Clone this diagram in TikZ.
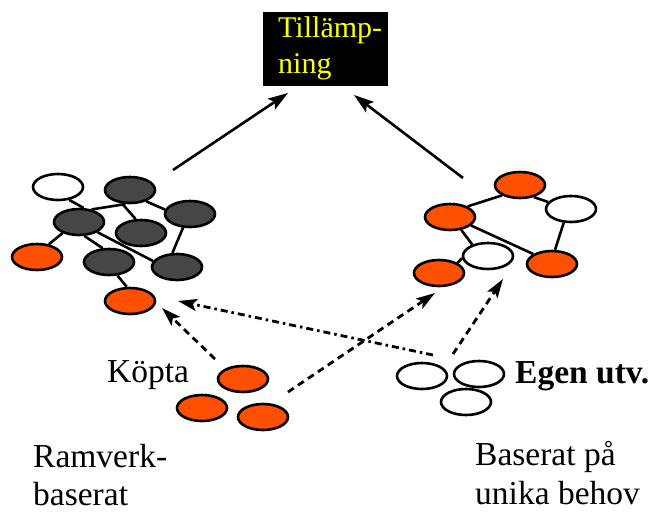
\documentclass[tikz,border=0pt]{standalone}
\usepackage{fontspec}
\setmainfont{Liberation Serif}
\usetikzlibrary{shapes.geometric,arrows.meta}
\definecolor{orng}{RGB}{255,80,0}
\definecolor{dgray}{RGB}{70,70,70}
\definecolor{yel}{RGB}{255,255,0}
\tikzset{
  blob/.style={ellipse, draw=black, line width=2.6pt, minimum width=50pt, minimum height=26pt, inner sep=0pt},
  wblob/.style={blob, fill=white},
  oblob/.style={blob, fill=orng},
  gblob/.style={blob, fill=dgray},
  edge/.style={line width=2.6pt},
  solidarrow/.style={line width=2.6pt, -{Stealth[length=20pt,width=13pt,inset=4pt]}},
  dasharrow/.style={line width=2.8pt, dash pattern=on 7pt off 5pt, -{Stealth[length=19pt,width=12pt,inset=4pt]}},
  dotarrow/.style={line width=2.8pt, dash pattern=on 7pt off 4pt on 2.5pt off 4pt, -{Stealth[length=19pt,width=12pt,inset=4pt]}},
  lbl/.style={inner sep=0pt, anchor=base west, font=\fontsize{33.5}{38}\selectfont},
  ylbl/.style={inner sep=0pt, anchor=base west, text=yel, font=\fontsize{30}{36}\selectfont}
}
\begin{document}
\begin{tikzpicture}[x=1pt,y=-1pt]
\useasboundingbox (0,0) rectangle (656,512);
% top box
\node (app) [fill=black, minimum width=125pt, minimum height=74pt, inner sep=0pt] at (325.5,49) {};
\node (t1) [ylbl] at (278,37) {Tillämp-};
\node (t2) [ylbl] at (278,73) {ning};
% left cluster
\node (W) [wblob] at (58,187) {};
\node (A) [gblob] at (130,190) {};
\node (B) [gblob] at (190,214) {};
\node (C) [gblob] at (79,222) {};
\node (D) [gblob] at (141,233) {};
\node (OL) [oblob] at (37,257) {};
\node (E) [gblob] at (109,262) {};
\node (F) [gblob] at (177,267) {};
\node (OB) [oblob] at (130,301) {};
\draw[edge] (W.-49) -- (C.72);
\draw[edge] (C.45) -- (A.-108);
\draw[edge] (A.-120) -- (D.111);
\draw[edge] (A.-35) -- (B.170);
\draw[edge] (B.-117) -- (F.108);
\draw[edge] (C.-29) -- (F.166);
\draw[edge] (C.-146) -- (OL.47);
\draw[edge] (C.-69) -- (E.115);
\draw[edge] (E.-58) -- (OB.103);
% right cluster
\node (P) [oblob] at (520,185) {};
\node (Q) [wblob] at (571,209) {};
\node (R) [oblob] at (450,217) {};
\node (S) [wblob] at (488,256) {};
\node (T) [oblob] at (552,264) {};
\node (U) [oblob] at (439,273) {};
\draw[edge] (R.31) -- (P.-150);
\draw[edge] (P.-41) -- (Q.163);
\draw[edge] (Q.-118) -- (T.78);
\draw[edge] (R.-22) -- (T.152);
\draw[edge] (R.-49) -- (S.144);
\draw[edge] (S.-175) -- (U.29);
% bottom groups
\node (K1) [oblob] at (243,379) {};
\node (K2) [oblob] at (202,408) {};
\node (K3) [oblob] at (263,417) {};
\node (G1) [wblob] at (422,376) {};
\node (G2) [wblob] at (479,374) {};
\node (G3) [wblob] at (466,402) {};
% arrows to box
\coordinate (la) at (173,170);
\coordinate (lt) at (288,93);
\coordinate (ra) at (463,178);
\coordinate (rt) at (354,95);
\draw[solidarrow] (la) -- (lt);
\draw[solidarrow] (ra) -- (rt);
% dashed arrows
\coordinate (d1s) at (215,359);
\coordinate (d1e) at (162,308);
\coordinate (d2s) at (433,355);
\coordinate (d2e) at (178,301);
\coordinate (d3s) at (288,392);
\coordinate (d3e) at (435,293);
\coordinate (d4s) at (453,354);
\coordinate (d4e) at (503,279);
\draw[dasharrow] (d1s) -- (d1e);
\draw[dotarrow] (d2s) -- (d2e);
\draw[dasharrow] (d3s) -- (d3e);
\draw[dasharrow] (d4s) -- (d4e);
% labels
\node (kp) [lbl] at (107,382) {Köpta};
\node (eg) [lbl, font=\fontsize{33.5}{38}\selectfont\bfseries] at (515,383) {Egen utv.};
\node (r1) [lbl] at (33,467) {Ramverk-};
\node (r2) [lbl] at (33,505) {baserat};
\node (b1) [lbl] at (475,465) {Baserat på};
\node (b2) [lbl] at (475,504) {unika behov};
\end{tikzpicture}
\end{document}
